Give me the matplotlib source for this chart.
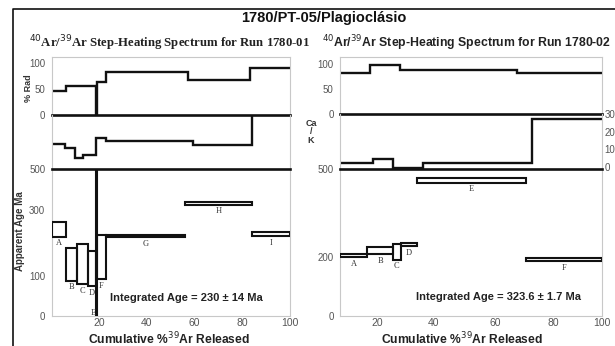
import numpy as np
import matplotlib
matplotlib.use('Agg')
import matplotlib.pyplot as plt
from matplotlib.patches import Rectangle
from matplotlib.lines import Line2D

plt.rcParams['font.family'] = ['Liberation Sans', 'DejaVu Sans']

W, H = 615, 346

# --- Run 1780-01 (painel esquerdo) ---
r1_labels = ['A', 'B', 'C', 'D', 'E', 'F', 'G', 'H', 'I']
r1_edges = [0, 6.2, 10.8, 15.3, 18.8, 19.1, 22.9, 56.1, 84.1, 100]
r1_age = [242, 137, 139, 125, 260, 157.5, 220.5, 333.5, 227]
r1_err = [23, 49, 59, 51, 300, 65.5, 3.5, 7.5, 6]
r1_rad_edges = [0, 6.1, 18.8, 19.1, 23.1, 57.3, 83.2, 100]
r1_rad = [47, 55, 0, 63.5, 82, 67, 90]
r1_cak_edges = [0, 5.7, 9.9, 13.4, 18.7, 22.9, 59.5, 84.1, 100]
r1_cak = [13.0, 10.6, 4.9, 6.7, 16.3, 14.7, 12.5, 60]
r1_integrated = '230 ± 14 Ma'

# --- Run 1780-02 (painel direito) ---
r2_labels = ['A', 'B', 'C', 'D', 'E', 'F']
r2_edges = [0, 14.8, 25.6, 28.6, 34.2, 70.6, 100]
r2_age = [206.5, 222, 218, 243, 463, 191.5]
r2_err = [5.5, 12, 27, 5, 8, 4.5]
r2_rad_edges = [0, 16.2, 28.1, 67.5, 100]
r2_rad = [83, 98.6, 89, 82]
r2_cak_edges = [0, 17.7, 25.6, 36.3, 72.7, 100]
r2_cak = [2.3, 4.3, -0.6, 2.0, 27.1]
r2_integrated = '323.6 ± 1.7 Ma'

x_ticks = [20, 40, 60, 80, 100]
rad_ticks = [0, 50, 100]
cak_ticks = [0, 10, 20, 30]
r1_age_ticks = [0, 100, 300, 500]
r2_age_ticks = [0, 200, 500]

# the original axes are not evenly spaced, so the scales are warped like the picture
r1_age_warp = ([-500, 0, 100, 300, 500, 1500], [-200, 0, 40, 106, 147, 352])
r2_x_warp = ([-100, 0, 20, 40, 60, 80, 100, 200], [-185, 0, 37, 93, 155, 213, 261.5, 504])

GRAY = '#c8c8c8'
TICK = '#555555'
INK = '#111111'


def warp(vals, pos):
    fwd = lambda v: np.interp(v, vals, pos)
    inv = lambda p: np.interp(p, pos, vals)
    return fwd, inv


fig = plt.figure(figsize=(W / 100, H / 100), dpi=100)


def px_axes(x0, y0, x1, y1):
    return fig.add_axes([x0 / W, 1 - y1 / H, (x1 - x0) / W, (y1 - y0) / H])


def style(ax, hide=()):
    for name, s in ax.spines.items():
        s.set_color(GRAY)
        s.set_linewidth(0.8)
        s.set_visible(name not in hide)
    ax.tick_params(length=0, labelsize=7, colors=TICK, pad=4.5)
    ax.set_xticks([])
    ax.set_yticks([])
    ax.set_facecolor('none')


def draw_run(xl, xr, ys, edges, age, err, labels, rad_edges, rad, cak_edges, cak,
             rad_lim, cak_lim, age_ticks, age_warp=None, x_warp=None, cak_right=False):
    ax_rad = px_axes(xl, ys[0], xr, ys[1])
    ax_cak = px_axes(xl, ys[1], xr, ys[2])
    ax_age = px_axes(xl, ys[2], xr, ys[3])
    if age_warp:
        ax_age.set_yscale('function', functions=warp(*age_warp))
    hidden = (('bottom',), ('top', 'bottom'), ('top',))
    for ax, hide in zip((ax_rad, ax_cak, ax_age), hidden):
        if x_warp:
            ax.set_xscale('function', functions=warp(*x_warp))
        ax.set_xlim(0, 100)
        style(ax, hide)

    # % Rad
    ax_rad.stairs(rad, rad_edges, baseline=None, color=INK, lw=1.7)
    ax_rad.set_ylim(*rad_lim)
    ax_rad.set_yticks(rad_ticks)
    ax_rad.axhline(0, color=INK, lw=1.9, clip_on=False, zorder=4)

    # Ca/K
    ax_cak.stairs(cak, cak_edges, baseline=None, color=INK, lw=1.7)
    ax_cak.set_ylim(*cak_lim)
    if cak_right:
        ax_cak.yaxis.tick_right()
        ax_cak.set_yticks(cak_ticks)
        ax_cak.tick_params(axis='y', pad=2)

    # Idade aparente
    ax_age.set_ylim(0, 500)
    ax_age.set_yticks(age_ticks)
    ax_age.set_xticks(x_ticks)
    ax_age.tick_params(axis='x', labelsize=7.5, pad=1.5)
    ax_age.axhline(500, color=INK, lw=1.9, clip_on=False, zorder=4)

    fx = warp(*x_warp) if x_warp else (lambda v: v, lambda v: v)
    for i, lab in enumerate(labels):
        lo = age[i] - err[i]
        ax_age.add_patch(Rectangle((edges[i], lo), edges[i + 1] - edges[i], 2 * err[i],
                                   fill=False, ec=INK, lw=1.5, zorder=3))
        xm = fx[1]((fx[0](edges[i]) + fx[0](edges[i + 1])) / 2)
        if lo < 0:
            pos, off = (xm, 0), (-2.5, 2.5)
        else:
            pos, off = (xm, lo), (0, -4.7)
        ax_age.annotate(lab, pos, xytext=off, textcoords='offset points', ha='center',
                        va='center', fontsize=6, family=['Liberation Serif', 'DejaVu Serif'],
                        color='#333333')
    return ax_rad, ax_cak, ax_age


draw_run(51.5, 289.5, (57, 115, 169, 316), r1_edges, r1_age, r1_err, r1_labels,
         r1_rad_edges, r1_rad, r1_cak_edges, r1_cak, (0, 111.5), (-1.26, 29.6),
         r1_age_ticks, age_warp=r1_age_warp)
draw_run(340, 601.5, (57, 114.3, 169.3, 316), r2_edges, r2_age, r2_err, r2_labels,
         r2_rad_edges, r2_rad, r2_cak_edges, r2_cak, (0, 114.6), (-1.43, 30),
         r2_age_ticks, x_warp=r2_x_warp, cak_right=True)


def ftext(x, y, s, **kw):
    fig.text(x / W, 1 - y / H, s, ha='center', va='center', **kw)


ftext(324, 18, '1780/PT-05/Plagioclásio', fontsize=10.5, fontweight='bold', color=INK)
ftext(169.5, 43, r'$^{40}$Ar/$^{39}$Ar Step-Heating Spectrum for Run 1780-01', fontsize=9.2,
      fontweight='bold', color='#222222', family=['Liberation Serif', 'DejaVu Serif'])
ftext(466, 43, r'$^{40}$Ar/$^{39}$Ar Step-Heating Spectrum for Run 1780-02', fontsize=8.8,
      fontweight='bold', color='#222222')
ftext(169, 339, r'Cumulative %$^{39}$Ar Released', fontsize=8.7, fontweight='bold', color='#222222')
ftext(462, 339, r'Cumulative %$^{39}$Ar Released', fontsize=8.7, fontweight='bold', color='#222222')
ftext(186, 298.3, 'Integrated Age = ' + r1_integrated, fontsize=8, fontweight='bold', color='#222222')
ftext(498, 296.7, 'Integrated Age = ' + r2_integrated, fontsize=8, fontweight='bold', color='#222222')
ftext(28, 88, '% Rad', fontsize=6.5, fontweight='bold', color='#333333', rotation=90)
ftext(20, 231, 'Apparent Age Ma', fontsize=7, fontweight='bold', color='#333333', rotation=90)
ftext(311, 132, 'Ca\n/\nK', fontsize=6.5, fontweight='bold', color='#333333', linespacing=0.95)

# moldura da figura
fig.add_artist(Line2D([13 / W, 13 / W, 1], [0, 1 - 9.3 / H, 1 - 9.3 / H],
                      transform=fig.transFigure, color=INK, lw=1.2))

fig.savefig('out.png', dpi=100)
